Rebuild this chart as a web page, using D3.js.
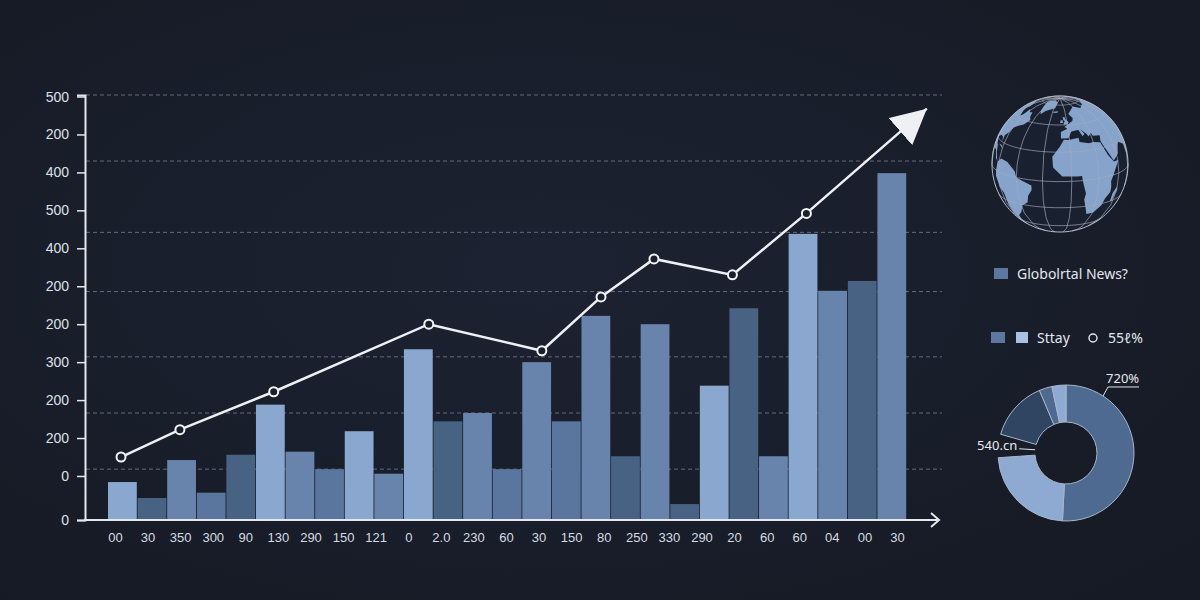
<!DOCTYPE html>
<html lang="en">
<head>
<meta charset="utf-8">
<title>Global news chart</title>
<script src="https://cdn.jsdelivr.net/npm/d3@7"></script>
<style>
  html, body { margin: 0; padding: 0; background: #181d29; }
  svg { display: block; font-family: "Noto Sans", "Open Sans", sans-serif; }
</style>
</head>
<body>
<svg id="chart" width="1200" height="600"></svg>
<script>
// ---- data ----
var yTickValues = [0, 58, 108, 158, 208, 258, 308, 358, 408, 458, 508, 558];
var yTickLabels = ["0", "0", "200", "200", "300", "200", "200", "400", "500", "400", "200", "500"];
var gridValues = [67, 141, 215, 301, 379, 473, 560];

var xLabels = ["00", "30", "350", "300", "90", "130", "290", "150", "121", "0", "2.0", "230",
               "60", "30", "150", "80", "250", "330", "290", "20", "60", "60", "04", "00", "30"];

var barValues = [50, 29, 79, 36, 86, 152, 90, 67, 117, 61, 225, 130, 141, 67,
                 208, 130, 269, 84, 258, 21, 177, 279, 84, 377, 302, 315, 457];
var barShades = ["light", "dark", "mid", "midDark", "dark", "light", "mid", "midDark", "light",
                 "mid", "light", "dark", "mid", "midDark", "mid", "midDark", "mid", "dark", "mid",
                 "dark", "light", "dark", "mid", "light", "mid", "dark", "mid"];

// trend line: position in bar units, value in y units (last one is the arrow tip)
var trendX = [0.44, 2.43, 5.6, 10.84, 14.66, 16.66, 18.45, 21.1, 23.6, 27.67];
var trendY = [83, 119, 169, 258, 223, 294, 344, 323, 404, 542];

// donut, in degrees of the circle (null colour = the missing slice)
var donutValues = [183, 83, 20, 51, 11, 12];
var donutShades = ["#4f6a91", "#8eaad2", null, "#2f4561", "#4f6a91", "#8eaad2"];
var donutLabels = ["720%", "540.cn"];

var legendTop = "Globolrtal News?";
var legendBottom = ["Sttay", "55ℓ%"];

// very rough continents for the globe (lon, lat)
var continents = [
  [[-17,21],[-16,12],[-8,4.5],[5,4],[9,4],[10,-2],[13,-12],[12,-18],[15,-27],[18,-34.5],[26,-34],[33,-27],
   [35,-20],[40,-15],[40,-10],[39,-5],[42,0],[51,11],[44,11],[38,18],[33,30],[25,31.5],[20,31],[10,33],
   [10,37],[-1,35.5],[-6,35.8],[-10,30],[-17,21]],
  [[44,-25],[47,-25],[50,-15],[49,-12],[44,-17],[44,-25]],
  [[-9,37],[-9,43],[-1,46],[-4.5,48],[2,51],[8,54],[10,57],[5,62],[14,67],[25,71],[40,67],[60,70],
   [80,73],[110,75],[140,72],[170,68],[160,60],[140,50],[130,40],[120,30],[110,20],[105,10],[100,13],
   [98,8],[92,20],[80,13],[77,8],[72,20],[60,25],[57,23],[52,16],[44,12],[35,28],[34,31],[36,36],
   [27,37],[26,40],[22,37],[20,40],[14,45],[18,40],[15,38],[12,44],[8,44],[3,43],[-1,37],[-9,37]],
  [[-5,50],[1,51],[2,53],[-2,56],[-3,58.5],[-6,58],[-5,55],[-3,54],[-5,52],[-5,50]],
  [[-10,52],[-6,52],[-6,55],[-9,55],[-10,52]],
  [[-45,60],[-40,65],[-22,70],[-20,80],[-40,83],[-60,82],[-70,78],[-55,70],[-50,64],[-45,60]],
  [[-24,65],[-14,66],[-15,64],[-22,63.5],[-24,65]],
  [[-165,65],[-160,59],[-150,61],[-135,58],[-125,49],[-124,40],[-117,32],[-110,23],[-105,20],[-95,16],
   [-88,16],[-83,10],[-78,8],[-80,10],[-84,15],[-88,21],[-90,21],[-97,26],[-90,29],[-83,29],[-80,25],
   [-81,31],[-76,35],[-74,40],[-70,42],[-66,44],[-60,46],[-55,52],[-60,55],[-64,60],[-70,59],[-78,62],
   [-78,55],[-82,52],[-90,57],[-95,60],[-93,64],[-100,68],[-120,69],[-140,70],[-156,71],[-165,65]],
  [[-85,22],[-78,22.5],[-74,20],[-80,21.5],[-85,22]],
  [[-78,8],[-72,12],[-62,11],[-52,5],[-50,0],[-44,-2],[-35,-5],[-35,-9],[-39,-15],[-41,-22],[-48,-26],
   [-53,-34],[-58,-38],[-63,-41],[-66,-47],[-69,-52],[-72,-54],[-75,-50],[-73,-40],[-71,-30],[-70,-18],
   [-76,-14],[-81,-5],[-80,0],[-78,8]]
];

var colors = { light: "#8aa7cf", mid: "#6884ac", midDark: "#5a769e", dark: "#486283" };

var svg = d3.select("#chart");

// background with a soft vignette
var defs = svg.append("defs");
var bg = defs.append("radialGradient").attr("id", "bg").attr("cx", "45%").attr("cy", "45%").attr("r", "75%");
bg.append("stop").attr("offset", "0%").attr("stop-color", "#1c2231");
bg.append("stop").attr("offset", "100%").attr("stop-color", "#151a24");
svg.append("rect").attr("width", 1200).attr("height", 600).attr("fill", "url(#bg)");

defs.append("marker")
  .attr("id", "arrowHead")
  .attr("viewBox", "0 -18 35 36")
  .attr("refX", 35).attr("refY", 0)
  .attr("markerWidth", 35).attr("markerHeight", 36)
  .attr("markerUnits", "userSpaceOnUse")
  .attr("orient", "auto")
  .append("path").attr("d", "M0,-18L35,0L0,18Z").attr("fill", "#eef0f4");

// ---- scales ----
var y = d3.scaleLinear().domain([0, 560]).range([520, 95]);
var x = d3.scaleLinear().domain([0, 27]).range([108, 907]);
var xLab = d3.scalePoint().domain(d3.range(xLabels.length)).range([115, 897]);

// grid
svg.append("g").selectAll("line").data(gridValues).enter().append("line")
  .attr("x1", 86).attr("x2", 942)
  .attr("y1", function(d) { return y(d); })
  .attr("y2", function(d) { return y(d); })
  .attr("stroke", "#636b7a")
  .attr("stroke-width", 1)
  .attr("stroke-dasharray", "4,3");

// bars
svg.append("g").selectAll("rect").data(barValues).enter().append("rect")
  .attr("x", function(d, i) { return x(i); })
  .attr("width", function(d, i) { return x(i + 1) - x(i) - 0.8; })
  .attr("y", function(d) { return y(d); })
  .attr("height", function(d) { return y(0) - y(d); })
  .attr("fill", function(d, i) { return colors[barShades[i]]; });

// y axis
var yAxis = d3.axisLeft(y)
  .tickValues(yTickValues)
  .tickFormat(function(d, i) { return yTickLabels[i]; })
  .tickSize(8)
  .tickPadding(8);
var gy = svg.append("g").attr("transform", "translate(85,0)").call(yAxis);
gy.select(".domain").attr("stroke", "#e4e7ed").attr("stroke-width", 2);
gy.selectAll(".tick line").attr("stroke", "#e4e7ed").attr("stroke-width", 1.5);
gy.selectAll(".tick text").attr("fill", "#dde1e8").attr("font-size", 14);

// x axis labels
var xAxis = d3.axisBottom(xLab)
  .tickFormat(function(d) { return xLabels[d]; })
  .tickSize(0)
  .tickPadding(13);
var gx = svg.append("g").attr("transform", "translate(0,520)").call(xAxis);
gx.select(".domain").remove();
gx.selectAll(".tick text").attr("fill", "#d6dbe3").attr("font-size", 13);

// x axis line with open arrow
svg.append("line").attr("x1", 84).attr("x2", 939).attr("y1", y(0)).attr("y2", y(0))
  .attr("stroke", "#e4e7ed").attr("stroke-width", 2);
svg.append("path")
  .attr("d", "M931," + (y(0) - 7) + "L939," + y(0) + "L931," + (y(0) + 7))
  .attr("fill", "none").attr("stroke", "#e4e7ed").attr("stroke-width", 2);

// trend line
var pts = trendX.map(function(v, i) { return [x(v), y(trendY[i])]; });
svg.append("path")
  .attr("d", d3.line()(pts))
  .attr("fill", "none")
  .attr("stroke", "#eef0f4")
  .attr("stroke-width", 2.5)
  .attr("marker-end", "url(#arrowHead)");
svg.append("g").selectAll("circle").data(pts.slice(0, pts.length - 1)).enter().append("circle")
  .attr("cx", function(d) { return d[0]; })
  .attr("cy", function(d) { return d[1]; })
  .attr("r", 4.5)
  .attr("fill", "#1a1f2c")
  .attr("stroke", "#f2f4f7")
  .attr("stroke-width", 2);

// ---- globe ----
var proj = d3.geoOrthographic().scale(68).translate([1060, 164]).rotate([10, -15]);
var geoPath = d3.geoPath(proj);
var globe = svg.append("g");
globe.append("path").datum({ type: "Sphere" }).attr("d", geoPath).attr("fill", "#192030");
continents.forEach(function(ring) {
  var poly = { type: "Polygon", coordinates: [ring] };
  if (d3.geoArea(poly) > 2 * Math.PI) poly.coordinates = [ring.slice().reverse()];
  globe.append("path").datum(poly).attr("d", geoPath).attr("fill", "#86a3cc");
});
globe.append("path").datum(d3.geoGraticule().step([25, 25])())
  .attr("d", geoPath).attr("fill", "none").attr("stroke", "#a3abb8").attr("stroke-width", 0.8).attr("opacity", 0.85);
globe.append("path").datum({ type: "Sphere" }).attr("d", geoPath)
  .attr("fill", "none").attr("stroke", "#b7c0cd").attr("stroke-width", 1);

// ---- legend ----
svg.append("rect").attr("x", 994).attr("y", 268).attr("width", 14).attr("height", 11).attr("fill", "#5d789f");
svg.append("text").attr("x", 1017).attr("y", 279).attr("font-size", 14).attr("fill", "#e3e7ee").text(legendTop);

svg.append("rect").attr("x", 991).attr("y", 332).attr("width", 14).attr("height", 11).attr("fill", "#5d789f");
svg.append("rect").attr("x", 1016).attr("y", 332).attr("width", 12).attr("height", 11).attr("fill", "#a9c1e2");
svg.append("text").attr("x", 1037).attr("y", 343).attr("font-size", 14).attr("fill", "#e3e7ee").text(legendBottom[0]);
svg.append("circle").attr("cx", 1093).attr("cy", 338).attr("r", 4).attr("fill", "none")
  .attr("stroke", "#e3e7ee").attr("stroke-width", 1.4);
svg.append("text").attr("x", 1108).attr("y", 343).attr("font-size", 14).attr("fill", "#e3e7ee").text(legendBottom[1]);

// ---- donut ----
var cx = 1066, cy = 453, rOut = 68, rIn = 31;
var pie = d3.pie().sort(null).value(function(d) { return d; });
var arc = d3.arc().innerRadius(rIn).outerRadius(rOut);
var arcs = pie(donutValues);
var donut = svg.append("g").attr("transform", "translate(" + cx + "," + cy + ")");
donut.selectAll("path").data(arcs.filter(function(a, i) { return donutShades[i]; })).enter().append("path")
  .attr("d", arc)
  .attr("fill", function(a) { return donutShades[a.index]; })
  .attr("stroke", "#a9b5c7")
  .attr("stroke-width", 1);

// labels with short leaders
var deg = Math.PI / 180;
var p1 = d3.pointRadial(33 * deg, rOut);
donut.append("polyline")
  .attr("points", [p1, [p1[0] + 5, p1[1] - 9], [p1[0] + 36, p1[1] - 9]].join(" "))
  .attr("fill", "none").attr("stroke", "#dfe3ea").attr("stroke-width", 1);
donut.append("text").attr("x", p1[0] + 3).attr("y", p1[1] - 13)
  .attr("font-size", 13).attr("fill", "#e6e9ef").text(donutLabels[0]);

var gapMid = (arcs[2].startAngle + arcs[2].endAngle) / 2;
var p2 = d3.pointRadial(gapMid, rIn);
donut.append("line")
  .attr("x1", p2[0] - 16).attr("y1", p2[1] - 1).attr("x2", p2[0]).attr("y2", p2[1])
  .attr("stroke", "#dfe3ea").attr("stroke-width", 1);
donut.append("text").attr("x", p2[0] - 18).attr("y", p2[1])
  .attr("text-anchor", "end").attr("font-size", 13).attr("fill", "#e6e9ef").text(donutLabels[1]);
</script>
</body>
</html>
